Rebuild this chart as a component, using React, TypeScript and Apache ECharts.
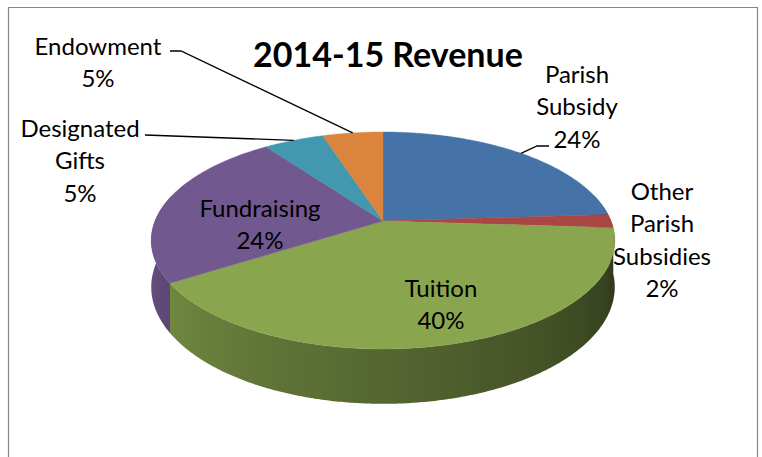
import React, { useEffect, useRef } from "react";
import * as echarts from "echarts";

// ---- data ----
const categories = [
  "Parish Subsidy",
  "Other Parish Subsidies",
  "Tuition",
  "Fundraising",
  "Designated Gifts",
  "Endowment",
];
const values = [24, 2, 40, 24, 5, 5];
const chartTitle = "2014-15 Revenue";

// ---- styling / layout ----
const colors = ["#4572A7", "#AA4643", "#89A54E", "#71588F", "#4198AF", "#DB843D"];
const labelText = [
  "Parish\nSubsidy",
  "Other\nParish\nSubsidies",
  "Tuition",
  "Fundraising",
  "Designated\nGifts",
  "Endowment",
];
// centre of first label line
const labelPos: number[][] = [
  [577, 73],
  [662, 190],
  [441, 287],
  [260, 207],
  [80, 127],
  [98, 45],
];
// leader-line points on the label side (anchor on the slice is computed)
const leaderStart: (number[][] | null)[] = [
  [[549, 146], [537, 146]],
  null,
  null,
  null,
  [[145, 135]],
  [[170, 51], [181, 51]],
];

const FONT = "Lato, 'Noto Sans', sans-serif";
const LINE_H = 32.5;
const CX = 383, CY = 221, R = 228, A = 105, D = 5.57, H = 45;

function proj(theta: number, r: number, depth: number): number[] {
  const u = r * Math.sin(theta);
  const v = r * Math.cos(theta);
  const S = D / (D + v);
  const Srim = D / (D + Math.cos(theta));
  return [CX + R * u * S, CY - A * v * S + depth * H * Srim];
}

function shade(hex: string, f: number): string {
  const n = parseInt(hex.slice(1), 16);
  const r = Math.round(((n >> 16) & 255) * f);
  const g = Math.round(((n >> 8) & 255) * f);
  const b = Math.round((n & 255) * f);
  return `rgb(${r},${g},${b})`;
}

function shadeFactor(theta: number): number {
  const deg = (theta * 180) / Math.PI;
  const f = 0.62 + (deg - 180) * 0.0034;
  return Math.max(0.36, Math.min(0.88, f));
}

export default function App() {
  const ref = useRef<HTMLDivElement>(null);
  useEffect(() => {
    document.body.style.margin = "0";
    const chart = echarts.init(ref.current!, undefined, { renderer: "svg" });
    const total = values.reduce((a, b) => a + b, 0);
    const starts: number[] = [];
    let acc = 0;
    values.forEach((v) => {
      starts.push(acc);
      acc += v;
    });
    const deg = Math.PI / 180;

    const renderItem = (params: any, api: any) => {
      const i = params.dataIndex;
      const val = api.value(0);
      const a0 = (starts[i] / total) * Math.PI * 2;
      const a1 = ((starts[i] + val) / total) * Math.PI * 2;
      const color = colors[i];
      const children: any[] = [];

      // outer wall (front-visible part)
      const w0 = Math.max(a0, 75 * deg);
      const w1 = Math.min(a1, 285 * deg);
      if (w1 > w0) {
        const n = Math.max(2, Math.ceil((w1 - w0) / (0.5 * deg)));
        const top: number[][] = [];
        const bot: number[][] = [];
        for (let k = 0; k <= n; k++) {
          const t = w0 + ((w1 - w0) * k) / n;
          top.push(proj(t, 1, 0));
          bot.push(proj(t, 1, 1));
        }
        const xs = top.map((p) => p[0]);
        const xmin = Math.min(...xs);
        const xmax = Math.max(...xs);
        const g0 = Math.max(w0, 90 * deg);
        const g1 = Math.min(w1, 270 * deg);
        const stops: { offset: number; color: string }[] = [];
        const span = Math.max(1, xmax - xmin);
        if (g1 > g0) {
          const m = 12;
          for (let k = 0; k <= m; k++) {
            const t = g0 + ((g1 - g0) * k) / m;
            const x = proj(t, 1, 0)[0];
            stops.push({ offset: Math.max(0, Math.min(1, (x - xmin) / span)), color: shade(color, shadeFactor(t)) });
          }
          stops.sort((p, q) => p.offset - q.offset);
        } else {
          const c = shade(color, shadeFactor((w0 + w1) / 2));
          stops.push({ offset: 0, color: c }, { offset: 1, color: c });
        }
        const grad = new echarts.graphic.LinearGradient(xmin, 0, xmin + span, 0, stops, true);
        children.push({
          type: "polygon",
          z2: 1,
          shape: { points: [...top, ...bot.reverse()] },
          style: { fill: grad },
        });
      }

      // top face
      const pts: number[][] = [proj(0, 0, 0)];
      const n = Math.max(2, Math.ceil((a1 - a0) / (0.5 * deg)));
      for (let k = 0; k <= n; k++) pts.push(proj(a0 + ((a1 - a0) * k) / n, 1, 0));
      children.push({
        type: "polygon",
        z2: 10,
        shape: { points: pts },
        style: { fill: color, stroke: color, lineWidth: 0.4 },
      });

      // label
      const pct = Math.round((val / total) * 100) + "%";
      const [lx, ly] = labelPos[i];
      children.push({
        type: "text",
        z2: 30,
        style: {
          text: labelText[i] + "\n" + pct,
          x: lx,
          y: ly - LINE_H / 2,
          align: "center",
          verticalAlign: "top",
          lineHeight: LINE_H,
          fontSize: 24,
          fontFamily: FONT,
          fill: "#000",
        },
      });

      // leader line
      const ls = leaderStart[i];
      if (ls) {
        const anchor = proj((a0 + a1) / 2, 1, 0);
        children.push({
          type: "polyline",
          z2: 20,
          shape: { points: [...ls, anchor] },
          style: { stroke: "#000", lineWidth: 1.3, fill: null },
        });
      }
      return { type: "group", children };
    };

    chart.setOption({
      animation: false,
      backgroundColor: "#ffffff",
      title: {
        text: chartTitle,
        left: 383,
        top: 31,
        textAlign: "center",
        textStyle: {
          fontFamily: FONT,
          fontWeight: "bold",
          fontSize: 34,
          color: "#000",
        },
      },
      graphic: [
        {
          type: "rect",
          shape: { x: 8.5, y: 7.5, width: 749, height: 470 },
          style: { fill: "none", stroke: "#878787", lineWidth: 1.2 },
          silent: true,
        },
      ],
      series: [
        {
          type: "custom",
          coordinateSystem: "none",
          renderItem,
          data: values.map((v, i) => ({ name: categories[i], value: [v] })),
        },
      ],
    });
    return () => chart.dispose();
  }, []);
  return <div ref={ref} style={{ width: 762, height: 457 }} />;
}
